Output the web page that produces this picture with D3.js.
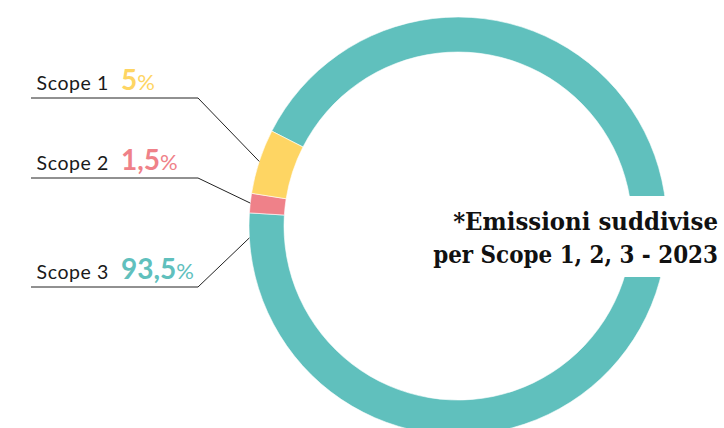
<!DOCTYPE html>
<html>
<head>
<meta charset="utf-8">
<script src="https://cdn.jsdelivr.net/npm/d3@7"></script>
<style>
  body { margin: 0; background: #fff; }
  svg { display: block; }
</style>
</head>
<body>
<div id="chart"></div>
<script>
// data, drawn in clockwise order starting from the top-left
const scopes = ["Scope 3", "Scope 2", "Scope 1"];
const shares = [93.5, 1.5, 5];
const shareLabels = ["93,5", "1,5", "5"];
const colors = ["#60c0bd", "#ef8189", "#fed563"];
const titleLines = ["*Emissioni suddivise", "per Scope 1, 2, 3 - 2023"];

const svgWidth = 724;
const svgHeight = 428;
const cx = 458;
const cy = 226;
const outerR = 209;
const innerR = 174;
const startDeg = -63;

const svg = d3
  .select("#chart")
  .append("svg")
  .attr("width", svgWidth)
  .attr("height", svgHeight);

const pie = d3
  .pie()
  .sort(null)
  .value((d) => d)
  .startAngle((startDeg * Math.PI) / 180)
  .endAngle((startDeg * Math.PI) / 180 + 2 * Math.PI);

const arcs = pie(shares);
const arc = d3.arc().innerRadius(innerR).outerRadius(outerR);

const g = svg.append("g").attr("transform", `translate(${cx},${cy})`);
g.selectAll("path")
  .data(arcs)
  .enter()
  .append("path")
  .attr("d", arc)
  .attr("fill", (d, i) => colors[i])
  .attr("stroke", "#fff")
  .attr("stroke-width", 0.6);

// labels on the left, drawn top to bottom
const order = [2, 1, 0];
const rowY = [98, 178, 287];
const lineX0 = 31;
const elbowX = 198;

order.forEach((idx, row) => {
  const a = arcs[idx];
  // anchor angle on the ring (scope 3 is the big one: point near its end)
  const ang = idx === 0 ? a.endAngle - 0.12 : (a.startAngle + a.endAngle) / 2;
  const px = cx + outerR * Math.sin(ang);
  const py = cy - outerR * Math.cos(ang);
  const y = rowY[row];

  svg
    .append("polyline")
    .attr("points", `${lineX0},${y} ${elbowX},${y} ${px},${py}`)
    .attr("fill", "none")
    .attr("stroke", "#222")
    .attr("stroke-width", 1);

  svg
    .append("text")
    .attr("x", 109)
    .attr("y", y - 8)
    .attr("text-anchor", "end")
    .attr("font-family", "Lato, sans-serif")
    .attr("font-size", 19.5)
    .attr("letter-spacing", 0.6)
    .attr("fill", "#1a1a1a")
    .text(scopes[idx]);

  const t = svg
    .append("text")
    .attr("x", 121)
    .attr("y", y - 8)
    .attr("font-family", "Lato, sans-serif")
    .attr("fill", colors[idx]);
  t.append("tspan")
    .attr("font-size", 28)
    .attr("font-weight", 700)
    .text(shareLabels[idx]);
  t.append("tspan").attr("font-size", 22).text("%");
});

// title box over the right side of the ring
svg
  .append("rect")
  .attr("x", 425)
  .attr("y", 196)
  .attr("width", 299)
  .attr("height", 81)
  .attr("fill", "#fff");

// squeeze the serif title horizontally so it fits like the original
const titleW = [265, 285];
titleLines.forEach((line, i) => {
  const tg = svg.append("g");
  const tt = tg
    .append("text")
    .attr("text-anchor", "end")
    .attr("font-family", "DejaVu Serif, serif")
    .attr("font-weight", 700)
    .attr("font-size", 24)
    .attr("fill", "#111")
    .text(line);
  const len = tt.node().getComputedTextLength();
  const sx = Math.min(1, titleW[i] / len);
  tg.attr("transform", `translate(718,${230 + i * 33}) scale(${sx},1)`);
});
</script>
</body>
</html>
